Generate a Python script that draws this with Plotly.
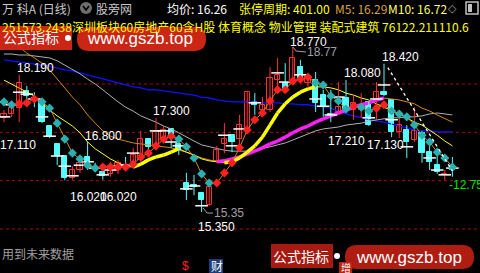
import plotly.graph_objects as go

W, H = 480, 273

# ---------------- data ----------------
opens = [17.30, 17.38, 17.50, 17.86, 17.71, 17.65, 17.13, 16.76, 16.51, 16.06,
         16.22, 16.49, 16.28, 16.18, 16.14, 16.22, 16.33, 16.39, 16.43, 16.86,
         16.70, 16.84, 17.07, 16.76, 15.95, 15.91, 15.74, 15.50, 16.41, 16.76,
         16.94, 16.86, 17.01, 17.63, 17.46, 17.46, 18.08, 18.02, 18.04, 18.35,
         18.02, 18.08, 17.77, 17.38, 17.42, 17.71, 17.46, 17.46, 17.63, 17.67,
         17.83, 17.67, 17.01, 17.05, 16.84, 16.99, 16.59, 16.32, 16.11, 16.30]
highs = [17.46, 17.61, 18.19, 17.96, 17.83, 17.67, 17.13, 16.76, 16.53, 16.30,
         16.47, 16.80, 16.37, 16.26, 16.39, 16.43, 16.49, 16.68, 17.03, 16.86,
         17.30, 17.13, 17.07, 16.90, 16.16, 16.12, 15.74, 15.95, 16.72, 17.19,
         16.94, 17.36, 17.85, 17.81, 17.73, 18.35, 18.54, 18.43, 18.77, 18.50,
         18.23, 18.25, 17.88, 17.88, 18.04, 18.08, 17.77, 17.81, 17.65, 18.04,
         18.42, 17.67, 17.46, 17.15, 17.52, 17.01, 16.84, 16.57, 16.22, 16.49]
lows = [17.21, 17.32, 17.21, 17.65, 17.52, 17.19, 16.88, 16.32, 16.01, 16.02,
        16.16, 16.22, 16.18, 16.02, 16.08, 16.14, 16.22, 16.34, 16.39, 16.49,
        16.63, 16.80, 16.68, 16.53, 15.60, 15.70, 15.35, 15.48, 16.39, 16.57,
        16.59, 16.63, 16.97, 17.36, 17.32, 17.42, 17.88, 17.86, 18.02, 18.06,
        17.92, 17.42, 17.32, 17.21, 17.36, 17.42, 17.26, 17.30, 17.13, 17.26,
        17.75, 16.90, 16.88, 16.47, 16.80, 16.37, 16.22, 16.14, 16.01, 16.08]
closes = [17.38, 17.50, 18.02, 17.75, 17.67, 17.21, 16.90, 16.51, 16.06, 16.22,
          16.37, 16.30, 16.24, 16.10, 16.30, 16.37, 16.31, 16.53, 16.86, 16.70,
          17.01, 17.05, 16.90, 16.63, 15.81, 15.87, 15.60, 15.87, 16.63, 16.86,
          16.80, 17.15, 17.83, 17.57, 17.57, 18.12, 18.19, 17.88, 18.54, 18.08,
          18.17, 17.61, 17.52, 17.34, 17.52, 17.44, 17.61, 17.57, 17.15, 17.83,
          17.77, 17.01, 17.15, 16.80, 17.03, 16.57, 16.39, 16.18, 16.13, 16.22]
ticks = [17.32, 17.57, 17.83, 17.79, 17.69, 17.32, 16.92, 16.51, 16.30, 16.10,
         16.32, 16.39, 16.26, 16.12, 16.22, 16.30, 16.32, 16.57, None, None,
         17.03, 17.03, 16.80, 16.72, 15.83, 15.89, 15.48, None, None, 16.94,
         16.72, 17.07, None, 17.61, None, None, 18.23, 18.04, None, 18.19,
         None, 17.69, 17.54, 17.36, 17.73, None, None, None, 17.30, 17.69,
         17.98, 17.26, None, 16.70, None, None, 16.47, 16.22, 16.12, 16.26]
ma5 = [17.63, 17.57, 17.59, 17.61, 17.69, 17.63, 17.50, 17.19, 16.86, 16.57,
       16.45, 16.32, 16.26, 16.28, 16.28, 16.28, 16.28, 16.34, 16.49, 16.57,
       16.72, 16.86, 16.92, 16.86, 16.70, 16.47, 16.14, 15.95, 15.95, 16.16,
       16.37, 16.68, 17.05, 17.26, 17.40, 17.65, 17.88, 17.88, 18.06, 18.10,
       18.14, 18.02, 17.98, 17.75, 17.65, 17.48, 17.54, 17.52, 17.44, 17.50,
       17.57, 17.44, 17.38, 17.32, 17.15, 16.94, 16.80, 16.59, 16.47, 16.28]
ma10 = [18.08, 18.00, 17.92, 17.83, 17.75, 17.61, 17.46, 17.34, 17.23, 17.13,
        16.99, 16.80, 16.66, 16.55, 16.45, 16.37, 16.30, 16.28, 16.34, 16.43,
        16.49, 16.53, 16.59, 16.66, 16.59, 16.53, 16.45, 16.41, 16.39, 16.37,
        16.39, 16.47, 16.59, 16.72, 16.90, 17.15, 17.40, 17.59, 17.73, 17.83,
        17.90, 17.94, 17.94, 17.92, 17.88, 17.81, 17.77, 17.71, 17.67, 17.59,
        17.52, 17.46, 17.38, 17.30, 17.21, 17.15, 17.05, 16.94, 16.82, 16.72]
ma20 = [18.99, 18.89, 18.77, 18.64, 18.54, 18.43, 18.29, 18.10, 17.92, 17.73,
        17.57, 17.36, 17.19, 17.03, 16.92, 16.86, 16.82, 16.78, 16.76, 16.74,
        16.72, 16.70, 16.68, 16.63, 16.59, 16.53, 16.47, 16.43, 16.39, 16.41,
        16.45, 16.49, 16.55, 16.61, 16.68, 16.76, 16.82, 16.90, 16.99, 17.07,
        17.13, 17.21, 17.28, 17.34, 17.40, 17.46, 17.52, 17.57, 17.61, 17.67,
        17.71, 17.69, 17.67, 17.63, 17.59, 17.50, 17.44, 17.36, 17.28, 17.21]
ma30 = [18.62, 18.62, 18.60, 18.60, 18.58, 18.56, 18.54, 18.48, 18.39, 18.31,
        18.21, 18.10, 18.00, 17.88, 17.75, 17.63, 17.52, 17.44, 17.34, 17.28,
        17.21, 17.13, 17.07, 16.99, 16.90, 16.82, 16.74, 16.70, 16.66, 16.63,
        16.61, 16.61, 16.61, 16.63, 16.66, 16.70, 16.74, 16.78, 16.84, 16.90,
        16.97, 17.03, 17.07, 17.09, 17.11, 17.15, 17.17, 17.19, 17.23, 17.26,
        17.28, 17.30, 17.30, 17.32, 17.32, 17.34, 17.38, 17.40, 17.38, 17.36]
ma60 = [18.50, 18.48, 18.46, 18.43, 18.41, 18.39, 18.37, 18.33, 18.29, 18.27,
        18.23, 18.19, 18.14, 18.10, 18.06, 18.02, 17.98, 17.94, 17.92, 17.88,
        17.88, 17.86, 17.83, 17.81, 17.79, 17.77, 17.73, 17.71, 17.67, 17.65,
        17.63, 17.63, 17.63, 17.63, 17.61, 17.61, 17.61, 17.59, 17.59, 17.57,
        17.57, 17.54, 17.52, 17.50, 17.44, 17.38, 17.34, 17.30, 17.26, 17.23,
        17.21, 17.17, 17.13, 17.09, 17.05, 17.03, 17.03, 17.01, 17.01, 17.01]
grid_prices = [18, 17, 16, 15]
# price labels: (text, left px, centre px, colour)
price_labels = [("18.190", 16, 68, "white"), ("18.770", 289, 42, "white"),
                ("18.080", 343, 73, "white"), ("18.420", 381, 57, "white"),
                ("17.300", 152, 111, "white"), ("17.110", -1, 145, "white"),
                ("16.800", 84, 136, "white"), ("16.020", 69, 197, "white"),
                ("16.020", 99, 197, "white"), ("17.210", 327, 141, "white"),
                ("17.130", 366, 145, "white"), ("15.350", 197, 227, "white"),
                ("18.77", 306, 52, "#a0a0a0"), ("15.35", 213, 213, "#a0a0a0"),
                ("-12.75", 448, 185, "#00e000")]

n = len(opens)
idx = list(range(n))

RED = "#ff3232"
CYAN = "#54fcfc"
NUM = "Liberation Sans, Arial, sans-serif"
CJK = "Noto Sans CJK SC, sans-serif"

fig = go.Figure()

# moving averages (thin base lines)
fig.add_trace(go.Scatter(x=idx, y=ma60, mode="lines", line=dict(color="#1010ff", width=1.3), hoverinfo="skip"))
fig.add_trace(go.Scatter(x=idx, y=ma30, mode="lines", line=dict(color="#b0b0b0", width=1), hoverinfo="skip"))
fig.add_trace(go.Scatter(x=idx, y=ma20, mode="lines", line=dict(color="#d08a18", width=1), hoverinfo="skip"))
fig.add_trace(go.Scatter(x=idx, y=ma10, mode="lines", line=dict(color="#ffff20", width=1), hoverinfo="skip"))


def rising_segments(vals):
    xs, ys = [], []
    for i in range(1, len(vals)):
        if vals[i] > vals[i - 1]:
            xs += [i - 1, i, None]
            ys += [vals[i - 1], vals[i], None]
    return xs, ys


sx, sy = rising_segments(ma20)
fig.add_trace(go.Scatter(x=sx, y=sy, mode="lines", line=dict(color="#ff20ff", width=3.5), hoverinfo="skip"))
sx, sy = rising_segments(ma10)
fig.add_trace(go.Scatter(x=sx, y=sy, mode="lines", line=dict(color="#ffff00", width=3.5), hoverinfo="skip"))

# candles: wicks
up = [c >= o for o, c in zip(opens, closes)]
for is_up, col in [(True, RED), (False, CYAN)]:
    wx, wy = [], []
    for i in idx:
        if up[i] == is_up:
            wx += [i, i, None]
            wy += [lows[i], highs[i], None]
    fig.add_trace(go.Scatter(x=wx, y=wy, mode="lines", line=dict(color=col, width=1), hoverinfo="skip"))

# candles: bodies
for is_up, fill, col in [(True, "black", RED), (False, CYAN, CYAN)]:
    bx = [i for i in idx if up[i] == is_up]
    base = [min(opens[i], closes[i]) for i in bx]
    hgt = [max(abs(closes[i] - opens[i]), 0.012) for i in bx]
    fig.add_trace(go.Bar(x=bx, y=hgt, base=base, width=0.7,
                         marker=dict(color=fill, line=dict(color=col, width=1)), hoverinfo="skip"))

# white ticks
fig.add_trace(go.Scatter(x=idx, y=ticks, mode="markers",
                         marker=dict(symbol="line-ew", size=9, line=dict(color="white", width=1.5)),
                         hoverinfo="skip"))

# MA5 line with direction coloured dots
dot_cols = ["#2ab0b0"] + ["#ff2020" if ma5[i] >= ma5[i - 1] else "#2ab0b0" for i in range(1, n)]
fig.add_trace(go.Scatter(x=idx, y=ma5, mode="lines+markers",
                         line=dict(color="#c88a20", width=1),
                         marker=dict(symbol="diamond", size=7, color=dot_cols), hoverinfo="skip"))


# ---------------- helpers for pixel placement ----------------
def px(x):
    return x / W


def py(y):
    return 1 - y / H


annotations = []


def ann(text, x, y, color, size=12, family=NUM, anchor="left"):
    annotations.append(dict(text=text, x=px(x), y=py(y), xref="paper", yref="paper", xanchor=anchor,
                            yanchor="middle", showarrow=False,
                            font=dict(color=color, size=size, family=family), borderpad=0))


for t, x, y, c in price_labels:
    ann(t, x, y, c)

shapes = []
for gp in grid_prices:
    shapes.append(dict(type="line", xref="paper", yref="y", x0=0, x1=1, y0=gp, y1=gp,
                       line=dict(color="#a01010", width=1, dash="dot"), layer="below"))
# dotted trend line from the 18.42 high
shapes.append(dict(type="line", xref="x", yref="y", x0=50.5, y0=18.34, x1=59.0, y1=16.20,
                   line=dict(color="white", width=1.3, dash="dot")))
# grey leader lines
shapes.append(dict(type="path", xref="paper", yref="paper",
                   path=f"M {px(293)},{py(47)} L {px(296)},{py(51)} L {px(306)},{py(52)}",
                   line=dict(color="#a0a0a0", width=1)))
shapes.append(dict(type="path", xref="paper", yref="paper",
                   path=f"M {px(203)},{py(208)} L {px(207)},{py(213)} L {px(213)},{py(213)}",
                   line=dict(color="#a0a0a0", width=1)))


def pill(x0, x1, y0, y1, color):
    r = (y1 - y0) / 2
    p = (f"M {px(x0 + r)},{py(y0)} L {px(x1 - r)},{py(y0)} "
         f"Q {px(x1)},{py(y0)} {px(x1)},{py(y0 + r)} Q {px(x1)},{py(y1)} {px(x1 - r)},{py(y1)} "
         f"L {px(x0 + r)},{py(y1)} Q {px(x0)},{py(y1)} {px(x0)},{py(y0 + r)} "
         f"Q {px(x0)},{py(y0)} {px(x0 + r)},{py(y0)} Z")
    return dict(type="path", xref="paper", yref="paper", path=p, fillcolor=color,
                line=dict(width=0), layer="above")


def rect(x0, x1, y0, y1, color, line=None):
    return dict(type="rect", xref="paper", yref="paper", x0=px(x0), x1=px(x1), y0=py(y1), y1=py(y0),
                fillcolor=color, line=line or dict(width=0), layer="above")


# header row
ann("万 科A (日线)", 1, 8, "#c8c8c8", 12, CJK)
shapes.append(dict(type="circle", xref="paper", yref="paper", x0=px(80), x1=px(92), y0=py(14), y1=py(2),
                   fillcolor="#6e6e6e", line=dict(width=0)))
shapes.append(dict(type="path", xref="paper", yref="paper",
                   path=f"M {px(83)},{py(6)} L {px(86)},{py(10)} L {px(89)},{py(6)}",
                   line=dict(color="black", width=1.6)))
ann("股旁网", 95, 8, "#c8c8c8", 12, CJK)
ann("均价: 16.26", 166, 8, "white", 12, CJK)
ann("张停周期: 401.00", 238, 8, "#ffff00", 12, CJK)
ann("M5: 16.29", 334, 8, "#d8a040", 12, CJK)
ann("M10: 16.72", 387, 8, "#ffff60", 12, CJK)
ann("◇", 447, 8, "#a0a0a0", 11, NUM)
shapes.append(dict(type="rect", xref="paper", yref="paper", x0=px(466), x1=px(478), y0=py(14), y1=py(2),
                   fillcolor="rgba(0,0,0,0)", line=dict(color="#c0c0c0", width=1.5)))
shapes.append(rect(468, 472, 4, 12, "#c0c0c0"))

# yellow block row (partly under the banner)
ann("251573.2438深圳板块60房地产60含H股 体育概念 物业管理 装配式建筑 76122.211110.6",
    1, 26, "#ffff00", 12, CJK)

# top banner
shapes.append(rect(0, 72, 26, 50, "rgba(214,40,22,0.95)"))
shapes.append(pill(77, 206, 27, 51, "rgba(214,40,22,0.95)"))
shapes.append(dict(type="circle", xref="paper", yref="paper", x0=px(65), x1=px(71), y0=py(41), y1=py(35),
                   fillcolor="white", line=dict(width=0), layer="above"))
ann("公式指标", 2, 37, "white", 14, CJK)
ann("www.gszb.top", 86, 39, "white", 17, NUM)

# bottom area
ann("用到未来数据", 1, 253, "#a0a0a0", 12, CJK)
shapes.append(rect(271, 333, 244, 268, "rgba(180,28,18,0.92)"))
shapes.append(pill(345, 474, 245, 269, "rgba(190,30,18,0.92)"))
shapes.append(dict(type="circle", xref="paper", yref="paper", x0=px(334), x1=px(340), y0=py(259), y1=py(253),
                   fillcolor="white", line=dict(width=0), layer="above"))
ann("公式指标", 272, 256, "white", 14, CJK)
ann("www.gszb.top", 355, 257, "white", 17, NUM)
ann("$", 181, 266, "#ff2020", 12, NUM)
shapes.append(rect(209, 223, 259, 273, "#1c3c78"))
ann("财", 210, 265, "white", 12, CJK)
shapes.append(rect(339, 352, 262, 273, "#c02010"))
ann("增", 340, 267, "white", 10, CJK)

fig.update_layout(
    width=W, height=H, margin=dict(l=0, r=0, t=0, b=0, pad=0),
    paper_bgcolor="black", plot_bgcolor="black", showlegend=False,
    barmode="overlay", bargap=0,
    xaxis=dict(range=[-0.526, 62.63], visible=False, fixedrange=True),
    yaxis=dict(range=[14.089, 19.738], visible=False, fixedrange=True),
    annotations=annotations, shapes=shapes,
)

fig.write_html("out.html", config={"displayModeBar": False})
